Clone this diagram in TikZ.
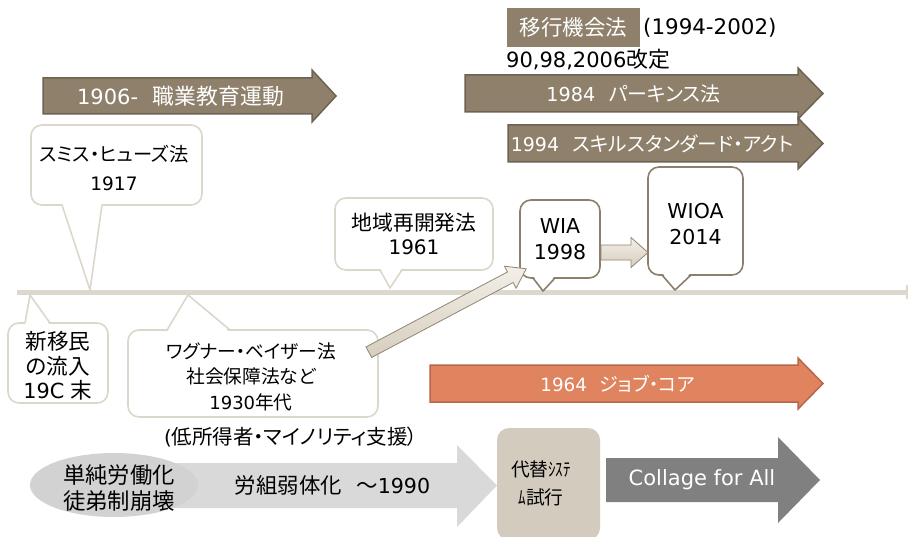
\documentclass[tikz,border=0pt]{standalone}
\usepackage{fontspec}
\usepackage{graphicx}
\setmainfont{DejaVu Sans}
\newfontfamily\jp[Scale=1.04,RawFeature=+palt]{Noto Sans CJK JP}
\usetikzlibrary{calc,shapes.geometric}

\definecolor{brownF}{HTML}{8E806B}
\definecolor{brownD}{HTML}{6E6252}
\definecolor{bubbleL}{HTML}{DCD7CB}
\definecolor{bubbleD}{HTML}{8C7F6B}
\definecolor{lineC}{HTML}{DDD8CE}
\definecolor{orangeF}{HTML}{E0835F}
\definecolor{orangeD}{HTML}{B8654A}
\definecolor{greyL}{HTML}{D9D9D9}
\definecolor{greyE}{HTML}{D2D2D2}
\definecolor{beigeF}{HTML}{D3CBBE}
\definecolor{greyD}{HTML}{808080}
\definecolor{arrTop}{HTML}{F3EFE8}
\definecolor{arrBot}{HTML}{D6CDBD}
\definecolor{arrD}{HTML}{8F8575}

\newcommand{\fsz}[2]{\fontsize{#1}{#2}\selectfont}
\newcommand{\taildown}[6]{% color, xa, xb, yedge, tipx, tipy
  \fill[white] (#2,#4-2.5) -- (#3,#4-2.5) -- (#5,#6) -- cycle;
  \draw[#1, line width=1.6pt, line join=round] (#2,#4) -- (#5,#6) -- (#3,#4);}
\newcommand{\tailup}[6]{% color, xa, xb, yedge, tipx, tipy
  \fill[white] (#2,#4+2.5) -- (#3,#4+2.5) -- (#5,#6) -- cycle;
  \draw[#1, line width=1.6pt, line join=round] (#2,#4) -- (#5,#6) -- (#3,#4);}

\begin{document}
\begin{tikzpicture}[x=1pt,y=-1pt,
  every node/.style={inner sep=0pt, align=center, font=\fsz{20}{24.5}},
  bub/.style={draw, fill=white, rounded corners=11pt, line width=1.6pt},
  wt/.style={text=white},
  brownarrow/.style={fill=brownF, draw=brownD, line width=1.5pt, line join=miter},
  orangearrow/.style={fill=orangeF, draw=orangeD, line width=1.5pt},
  lightarrow/.style={top color=arrTop, bottom color=arrBot, draw=arrD, line width=0.8pt}]

\useasboundingbox (0,0) rectangle (909,537);

% timeline
\coordinate (tl0) at (17,292);
\coordinate (tl1) at (907,292);
\draw[lineC, line width=5pt] (tl0) -- (tl1);
\draw[lineC, line width=2pt] ($(tl1)+(0,-7)$) -- ($(tl1)+(0,7)$);

% top brown arrows
\path[brownarrow] (43,78) -- (312,78) -- (312,70) -- (336,96) -- (312,122) -- (312,114) -- (43,114) -- cycle;
\node[wt, font=\fsz{21}{25}] (a1906) at (180.5,96) {1906-\hspace{0.7em}{\jp 職業教育運動}};

\path[brownarrow] (465,75) -- (798,75) -- (798,68) -- (823,93.5) -- (798,119) -- (798,112) -- (465,112) -- cycle;
\node[wt, font=\fsz{19.2}{24}] (perk) at (633.5,93.5) {1984\hspace{0.7em}{\jp パーキンス法}};

\path[brownarrow] (508,125) -- (798,125) -- (798,118) -- (823,143.5) -- (798,169) -- (798,162) -- (508,162) -- cycle;
\node[wt, font=\fsz{19}{24}] (skill) at (652,143.5) {1994\hspace{0.7em}{\jp スキルスタンダード・アクト}};

% transition opportunity act
\node[fill=brownF, text=white, minimum width=133, minimum height=39, font=\fsz{20.6}{24}] (ikou) at (573.5,27.5) {\jp 移行機会法};
\node[anchor=west, font=\fsz{21.4}{25}] (ikouyr) at (643,27.5) {(1994-2002)};
\node[anchor=west, font=\fsz{21}{25}] (kaitei) at (506,60) {90,98,2006{\jp 改定}};

% bubbles above the line
\node[bub, draw=bubbleL, minimum width=171, minimum height=80] (smith) at (116.5,165) {};
\node[font=\fsz{18.5}{29}] (smitht) at (114,167.5) {{\jp スミス・ヒューズ法}\\1917};
\taildown{bubbleL}{62}{102}{205}{90}{290}

\node[bub, draw=bubbleL, minimum width=158, minimum height=72] (chiiki) at (414,234) {{\jp 地域再開発法}\\1961};
\taildown{bubbleL}{380}{402}{270}{390}{288}

\node[bub, draw=bubbleD, minimum width=80, minimum height=78, font=\fsz{20.5}{26}] (wia) at (560,239) {WIA\\1998};
\taildown{bubbleD}{533}{555}{278}{543}{291}

\node[bub, draw=bubbleD, minimum width=95, minimum height=108] (wioa) at (695.5,221) {};
\node[font=\fsz{20.5}{26}] (wioat) at (695.5,224) {WIOA\\2014};
\taildown{bubbleD}{662}{691}{275}{675}{290}

% bubbles below the line
\node[bub, draw=bubbleL, minimum width=100, minimum height=80] (imm) at (58,363) {};
\node[font=\fsz{20.8}{24.5}] (immt) at (58,366) {{\jp 新移民}\\{\jp の流入}\\19C {\jp 末}};
\tailup{bubbleL}{25}{50}{323}{30}{295}

\node[bub, draw=bubbleL, minimum width=250, minimum height=87] (wag) at (253,373.5) {};
\node[font=\fsz{18}{25.5}] (wagt) at (251,376.5) {{\jp ワグナー・ベイザー法}\\{\jp 社会保障法など}\\1930{\jp 年代}};
\tailup{bubbleL}{167}{230}{330}{188}{295}

\node[font=\fsz{19.7}{24}] (note) at (291,437) {({\jp 低所得者・マイノリティ支援）}};

% diagonal arrow from the 1930s box to WIA
\coordinate (ds) at ($(wag.north east)+(-10,23)$);
\coordinate (dt) at ($(wia.south west)+(7,-10)$);
\coordinate (dh) at ($(dt)!18pt!(ds)$);
\path[lightarrow] ($(ds)!6pt!90:(dt)$) -- ($(dh)!6pt!90:(dt)$) -- ($(dh)!12.5pt!90:(dt)$) -- (dt)
  -- ($(dh)!12.5pt!-90:(dt)$) -- ($(dh)!6pt!-90:(dt)$) -- ($(ds)!6pt!-90:(dt)$) -- cycle;

% WIA -> WIOA arrow
\coordinate (ws) at (601,252.5);
\coordinate (wt) at (648,252.5);
\path[lightarrow] ($(ws)+(0,-7.5)$) -- ($(wt)+(-17,-7.5)$) -- ($(wt)+(-17,-15)$) -- (wt)
  -- ($(wt)+(-17,15)$) -- ($(wt)+(-17,7.5)$) -- ($(ws)+(0,7.5)$) -- cycle;

% job corps
\path[orangearrow] (430,365) -- (798,365) -- (798,358) -- (823,383.5) -- (798,409) -- (798,402) -- (430,402) -- cycle;
\node[wt, font=\fsz{18.3}{24}] (job) at (617.5,383.5) {1964\hspace{0.7em}{\jp ジョブ・コア}};

% bottom flow
\path[fill=greyL] (150,463) -- (457,463) -- (457,445) -- (497,485.5) -- (457,527) -- (457,508) -- (150,508) -- cycle;
\node[font=\fsz{20.6}{24}] (union) at (332.5,485.5) {{\jp 労組弱体化}\hspace{0.7em}{\jp ～}1990};
\node[ellipse, fill=greyE, minimum width=168, minimum height=64] (ell) at (114,485) {};
\node[font=\fsz{21.5}{26}] (ellt) at (119,488) {{\jp 単純労働化}\\{\jp 徒弟制崩壊}};

\node[fill=beigeF, rounded corners=12pt, minimum width=103, minimum height=112] (alt) at (548.5,484) {};
\node[font=\fsz{18}{28}] (altt) at (541,483) {{\jp 代替\scalebox{0.8}[1]{ｼｽﾃ}}\\{\jp \scalebox{0.8}[1]{ﾑ}試行}};

\path[fill=greyD] (606,458) -- (778,458) -- (778,437) -- (820,480) -- (778,523) -- (778,502) -- (606,502) -- cycle;
\node[wt, font=\fsz{21}{25}] (cfa) at (702,480) {Collage for All};

\end{tikzpicture}
\end{document}
